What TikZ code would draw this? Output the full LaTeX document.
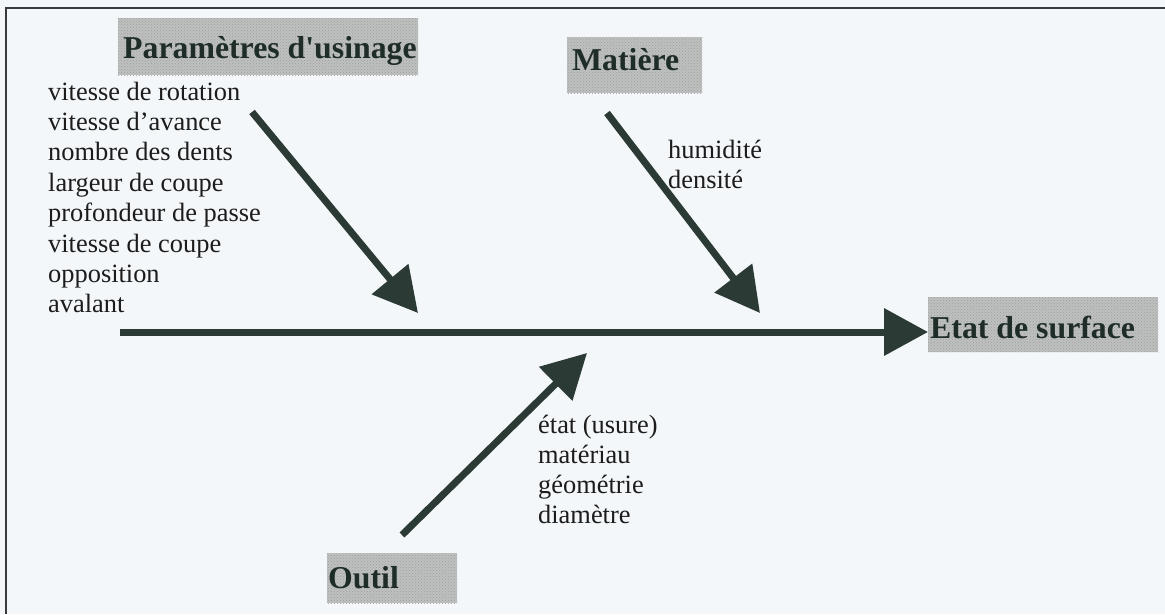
\documentclass[tikz,border=0pt]{standalone}
\usepackage{fontspec}
\setmainfont{Liberation Serif}
\usetikzlibrary{arrows.meta,patterns}
\definecolor{bgc}{HTML}{F3F7F9}
\definecolor{arrc}{HTML}{2C3A35}
\definecolor{boxc}{HTML}{BEC0BF}
\definecolor{txtc}{HTML}{1C1C1C}
\definecolor{headc}{HTML}{1F2D29}
\definecolor{framec}{HTML}{3A3A3A}
\begin{document}
\begin{tikzpicture}[x=1pt,y=-1pt,
  hbox/.style={fill=boxc, draw=none, inner sep=0pt, anchor=north west},
  hdots/.style={pattern=crosshatch dots, pattern color=gray!75},
  htext/.style={inner sep=0pt, anchor=base west, text=headc,
     font=\fontsize{31.8}{36}\selectfont\bfseries},
  ltext/.style={inner sep=0pt, anchor=base west, text=txtc,
     font=\fontsize{26.4}{30.4}\selectfont},
  bone/.style={draw=arrc, line width=7pt,
     -{Triangle[length=44pt,width=46pt]}, shorten <=0pt}
]
\useasboundingbox (0,0) rectangle (1165,614);
\fill[bgc] (0,0) rectangle (1165,614);
% frame
\draw[framec, line width=2pt] (5.5,614) -- (5.5,8) -- (1165,8);

% heading boxes
\node[hbox, minimum width=300pt, minimum height=57pt] (pbox) at (118,18) {};
\node[hbox, minimum width=135pt, minimum height=56pt] (mbox) at (567,37) {};
\node[hbox, minimum width=230pt, minimum height=55pt] (ebox) at (928,297) {};
\node[hbox, minimum width=130pt, minimum height=50pt] (obox) at (327,553) {};
\foreach \b in {pbox,mbox,ebox,obox}{
  \fill[hdots] (\b.north west) rectangle (\b.south east);
}

% heading texts
\node[htext] (ptxt) at (123,58) {Paramètres d\textquotesingle usinage};
\node[htext] (mtxt) at (572,70) {Matière};
\node[htext] (etxt) at (930,338) {Etat de surface};
\node[htext] (otxt) at (328,588) {Outil};

% cause lists
\foreach \t [count=\i] in {vitesse de rotation,vitesse d’avance,nombre des dents,largeur de coupe,profondeur de passe,vitesse de coupe,opposition,avalant}{
  \node[ltext] (pl\i) at (48,{100+30.4*(\i-1)}) {\t};
}
\node[ltext] (ml1) at (668,158) {humidité};
\node[ltext] (ml2) at (668,188) {densité};
\foreach \t [count=\i] in {état (usure),matériau,géométrie,diamètre}{
  \node[ltext] (ol\i) at (538,{433+30*(\i-1)}) {\t};
}

% bones
\coordinate (s0) at (120,332);
\draw[bone] (s0) -- (s0 -| ebox.west);
\coordinate (a1s) at (252,112);
\coordinate (a1e) at (418,313);
\draw[bone] (a1s) -- (a1e);
\coordinate (a2s) at (607,113);
\coordinate (a2e) at (760,313);
\draw[bone] (a2s) -- (a2e);
\coordinate (a3s) at (402,535);
\coordinate (a3e) at (587,353);
\draw[bone] (a3s) -- (a3e);
\end{tikzpicture}
\end{document}
